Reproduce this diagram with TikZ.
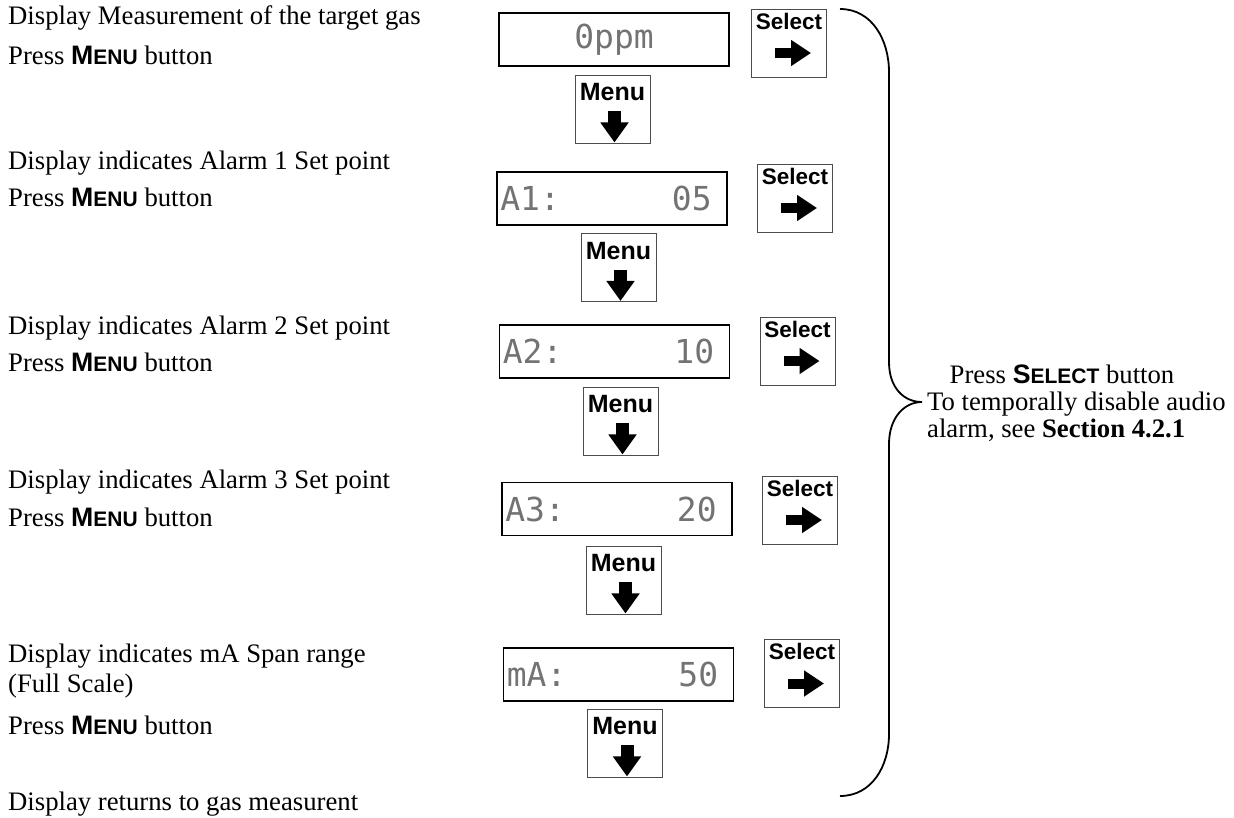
\documentclass[tikz,border=0pt]{standalone}
\usepackage{fontspec}
\setmainfont{Liberation Serif}
\setsansfont{Liberation Sans}
\newfontfamily\lcdfont{DejaVu Sans Mono}
\usetikzlibrary{arrows.meta}
\newcommand\btnname[2]{{\sffamily\bfseries #1{\fontsize{21}{21}\selectfont #2}}}

\begin{document}
\begin{tikzpicture}[x=1pt,y=-1pt,every node/.style={font=\fontsize{26.7}{30}\selectfont},
  txt/.style={anchor=base west,inner sep=0pt},
  lcd/.style={draw,line width=1.8pt,minimum width=230pt,minimum height=53pt,inner sep=0pt},
  lcdtxt/.style={font=\lcdfont\fontsize{33}{33}\selectfont,text=black!55,inner sep=0pt},
  key/.style={draw=black!70,line width=0.9pt,minimum width=75pt,minimum height=68pt,inner sep=0pt},
  keytxt/.style={font=\sffamily\bfseries\fontsize{25}{25}\selectfont,inner sep=0pt,anchor=north},
  darr/.style={line width=13pt,-{Triangle[length=20pt,width=27pt]}},
  rarr/.style={line width=10pt,-{Triangle[length=20pt,width=25pt]}}]
  \useasboundingbox (0,0) rectangle (1234,817);
  % left column
  \node[txt] (t1a) at (8,24) {Display Measurement of the target gas};
  \node[txt] (t1b) at (8,64) {Press \btnname{M}{ENU} button};
  \node[txt] (t2a) at (8,169) {Display indicates Alarm 1 Set point};
  \node[txt] (t2b) at (8,206) {Press \btnname{M}{ENU} button};
  \node[txt] (t3a) at (8,334) {Display indicates Alarm 2 Set point};
  \node[txt] (t3b) at (8,371) {Press \btnname{M}{ENU} button};
  \node[txt] (t4a) at (8,488) {Display indicates Alarm 3 Set point};
  \node[txt] (t4b) at (8,526) {Press \btnname{M}{ENU} button};
  \node[txt] (t5a) at (8,662) {Display indicates mA Span range};
  \node[txt] (t5b) at (8,692) {(Full Scale)};
  \node[txt] (t5c) at (8,734) {Press \btnname{M}{ENU} button};
  \node[txt] (t6) at (8,810) {Display returns to gas measurent};
  % displays
  \node[lcd] (d1) at (614,39.5) {};
  \node[lcdtxt] (d1t) at (d1) {0ppm};
  \node[lcd] (d2) at (612,198.5) {};
  \node[lcdtxt,anchor=west] (d2l) at ([xshift=4pt]d2.west) {A1:};
  \node[lcdtxt,anchor=east] (d2r) at ([xshift=-16pt]d2.east) {05};
  \node[lcd] (d3) at (614.5,351.5) {};
  \node[lcdtxt,anchor=west] (d3l) at ([xshift=4pt]d3.west) {A2:};
  \node[lcdtxt,anchor=east] (d3r) at ([xshift=-16pt]d3.east) {10};
  \node[lcd] (d4) at (617,509) {};
  \node[lcdtxt,anchor=west] (d4l) at ([xshift=4pt]d4.west) {A3:};
  \node[lcdtxt,anchor=east] (d4r) at ([xshift=-16pt]d4.east) {20};
  \node[lcd] (d5) at (618.5,674.5) {};
  \node[lcdtxt,anchor=west] (d5l) at ([xshift=4pt]d5.west) {mA:};
  \node[lcdtxt,anchor=east] (d5r) at ([xshift=-16pt]d5.east) {50};
  % menu keys
  \node[key] (m1) at (612.5,109) {};
  \node[key] (m2) at (618.5,267.5) {};
  \node[key] (m3) at (620.5,421) {};
  \node[key] (m4) at (623.5,580) {};
  \node[key] (m5) at (625,743) {};
  % select keys
  \node[key] (s1) at (789,43) {};
  \node[key] (s2) at (795,198) {};
  \node[key] (s3) at (797.5,351) {};
  \node[key] (s4) at (800,510) {};
  \node[key] (s5) at (802,673.5) {};
  \foreach \k in {1,...,5}{
    \node[keytxt] (m\k t) at ([yshift=-9pt]m\k.north) {Menu};
    \draw[darr] ([xshift=2pt,yshift=-2pt]m\k.center) -- ([xshift=2pt,yshift=1pt]m\k.south);
    \node[keytxt,font=\sffamily\bfseries\fontsize{22.5}{22.5}\selectfont] (s\k t) at ([yshift=-4pt]s\k.north) {Select};
    \draw[rarr] ([xshift=-14pt,yshift=-10pt]s\k.center) -- ([xshift=22pt,yshift=-10pt]s\k.center);
  }
  % brace
  \coordinate (tip) at (922,402);
  \draw[line width=1.8pt] (840,9) .. controls (872,9) and (889,40) .. (889,72) -- (889,362)
    .. controls (889,388) and (904,402) .. (tip) .. controls (904,402) and (889,418) .. (889,444)
    -- (889,734) .. controls (889,766) and (872,796) .. (840,796);
  \node[anchor=base] (r1) at (1062,383) {Press \btnname{S}{ELECT} button};
  \node[txt] (r2) at (927,410) {To temporally disable audio};
  \node[txt] (r3) at (927,437) {alarm, see \textbf{Section 4.2.1}};
\end{tikzpicture}
\end{document}
